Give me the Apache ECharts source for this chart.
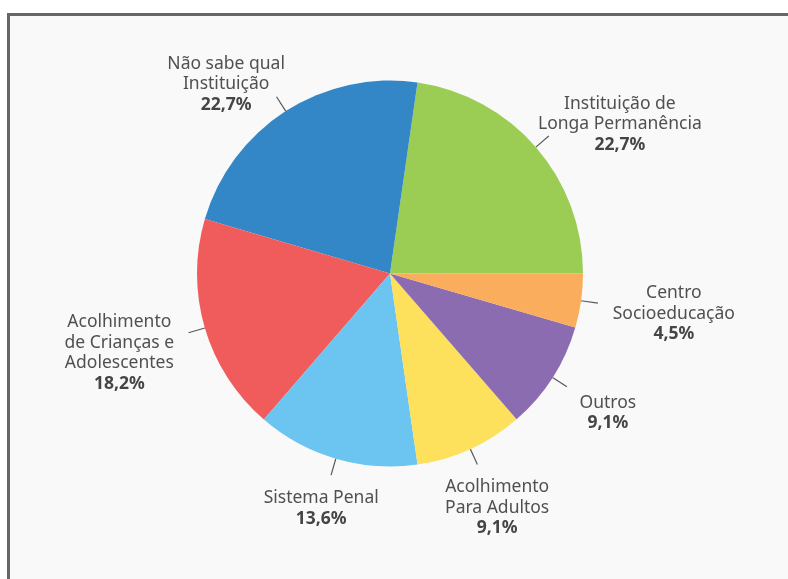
<!DOCTYPE html>
<html>
<head>
<meta charset="utf-8">
<script src="https://cdn.jsdelivr.net/npm/echarts@6/dist/echarts.min.js"></script>
<style>
  html, body { margin: 0; padding: 0; background: #ffffff; }
  #chart { width: 788px; height: 579px; }
</style>
</head>
<body>
<div id="chart"></div>
<script>
// ---- data ----
var categories = [
  'Instituição de\nLonga Permanência',
  'Não sabe qual\nInstituição',
  'Acolhimento\nde Crianças e\nAdolescentes',
  'Sistema Penal',
  'Acolhimento\nPara Adultos',
  'Outros',
  'Centro\nSocioeducação'
];
var percentValues = [22.7, 22.7, 18.2, 13.6, 9.1, 9.1, 4.5];
var sliceColors = ['#9bcd55', '#3487c7', '#f05c5c', '#6bc5f0', '#fde05b', '#8c6cb0', '#f9ad5d'];

// ---- chart ----
var chart = echarts.init(document.getElementById('chart'), null, { renderer: 'canvas' });
var LABEL_GAP = 15;
var FONT = '"Noto Sans", "DejaVu Sans", sans-serif';

var seriesData = categories.map(function (c, i) {
  return { name: c, value: percentValues[i], itemStyle: { color: sliceColors[i] } };
});

var option = {
  backgroundColor: '#ffffff',
  animation: false,
  graphic: [{
    type: 'rect',
    z: -10,
    silent: true,
    shape: { x: 8.5, y: 14.5, width: 800, height: 600 },
    style: { fill: '#f9f9f9', stroke: '#666666', lineWidth: 3 }
  }],
  series: [{
    type: 'pie',
    center: [390, 273.5],
    radius: 193,
    startAngle: 0,
    clockwise: false,
    avoidLabelOverlap: false,
    data: seriesData,
    itemStyle: { borderWidth: 0 },
    emphasis: { disabled: true },
    label: {
      show: true,
      position: 'outside',
      fontFamily: FONT,
      color: '#505050',
      formatter: function (p) {
        return '{n|' + p.name + '}\n{p|' + p.value.toFixed(1).replace('.', ',') + '%}';
      },
      rich: {
        n: { fontFamily: FONT, fontSize: 17.5, lineHeight: 20.5, color: '#505050', align: 'center' },
        p: { fontFamily: FONT, fontSize: 17.5, fontWeight: 'bold', lineHeight: 20.5, color: '#454545', align: 'center' }
      }
    },
    labelLine: {
      show: true,
      length: 17,
      length2: 0,
      smooth: false,
      lineStyle: { color: '#595959', width: 1.2 }
    },
    labelLayout: function (p) {
      var pts = p.labelLinePoints;
      if (!pts || pts.length < 2) { return {}; }
      var a = pts[0], b = pts[1], e = pts[pts.length - 1];
      var dx = b[0] - a[0], dy = b[1] - a[1];
      var len = Math.sqrt(dx * dx + dy * dy) || 1;
      var ux = dx / len, uy = dy / len;
      var hw = p.labelRect.width / 2, hh = p.labelRect.height / 2;
      var tx = Math.abs(ux) > 1e-6 ? hw / Math.abs(ux) : 1e9;
      var ty = Math.abs(uy) > 1e-6 ? hh / Math.abs(uy) : 1e9;
      var d = LABEL_GAP + Math.min(tx, ty);
      // radial placement
      var ox = ux * d, oy = uy * d;
      // labels above the centre lean towards the side
      if (uy < 0) {
        var sx = (ux >= 0 ? 1 : -1) * (hw + LABEL_GAP);
        ox = (ox + sx) / 2;
        oy = oy * 0.3;
      }
      return {
        x: e[0] + ox,
        y: e[1] + oy,
        align: 'center',
        verticalAlign: 'middle',
        labelLinePoints: pts
      };
    }
  }]
};
chart.setOption(option);
</script>
</body>
</html>
